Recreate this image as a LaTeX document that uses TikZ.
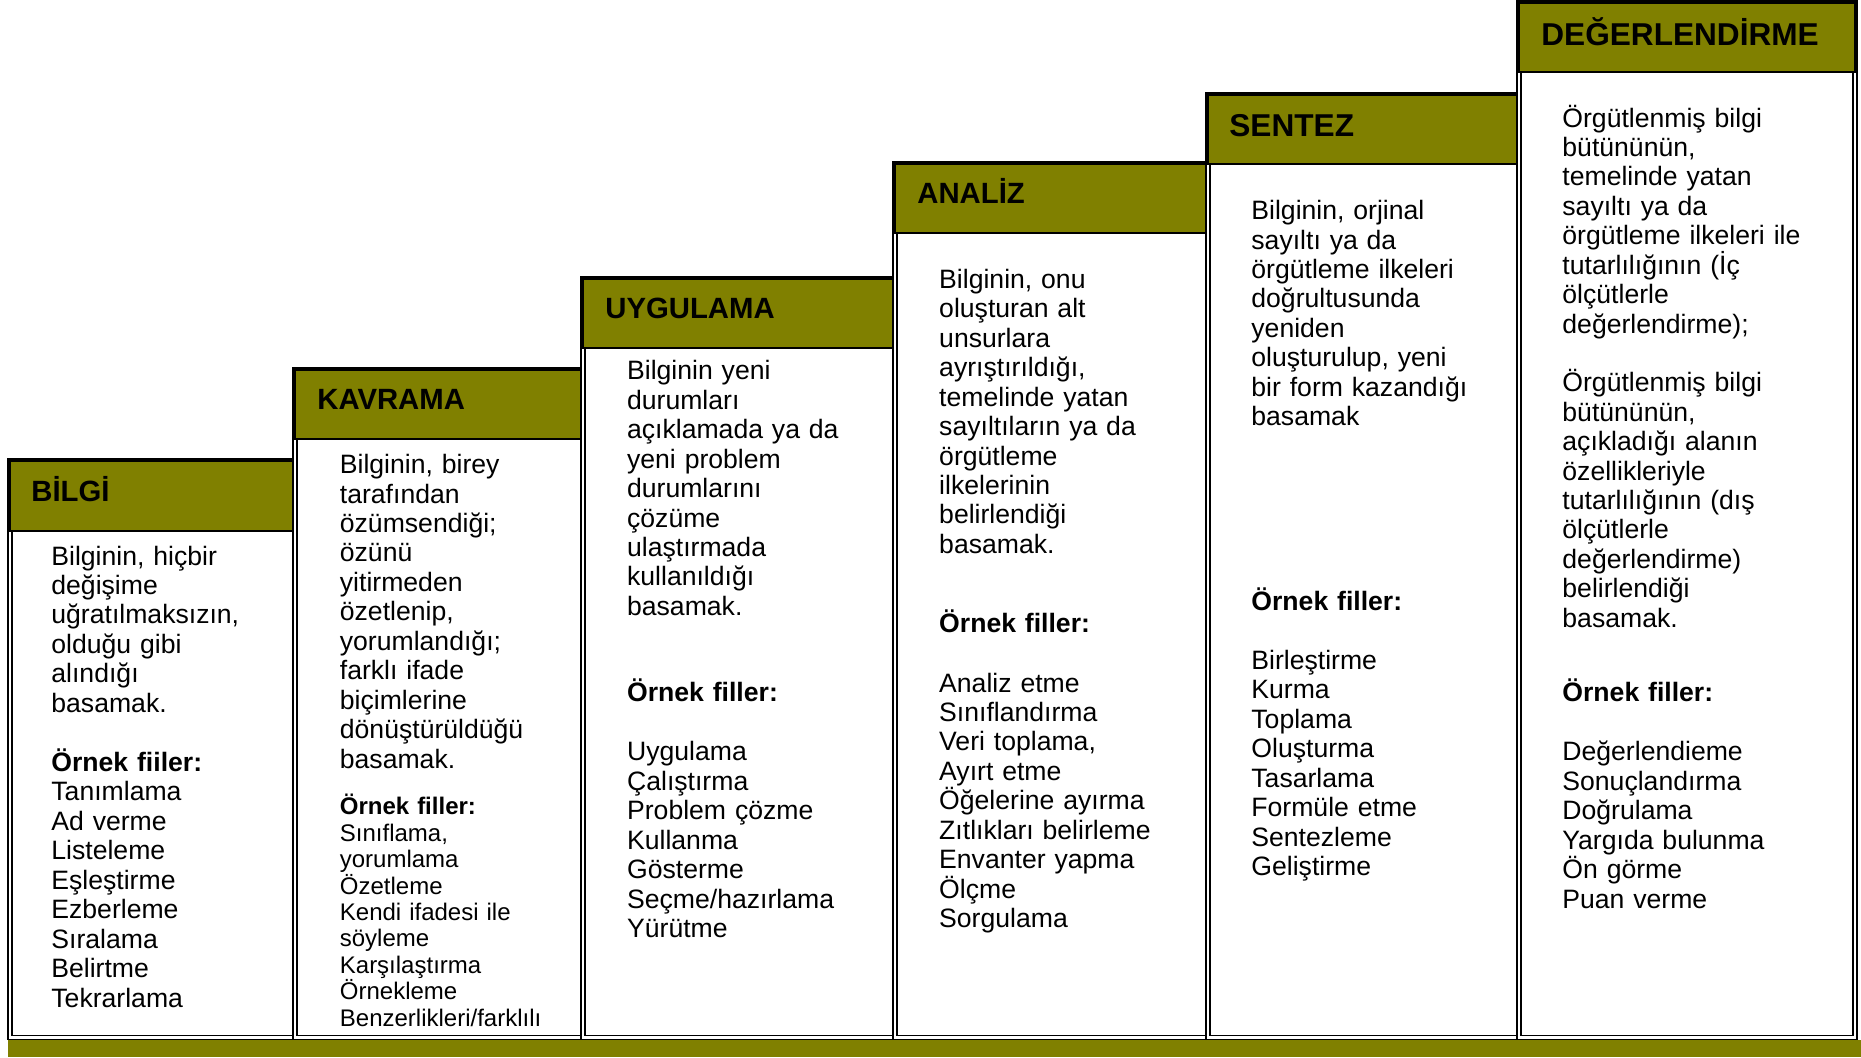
\documentclass[tikz,border=0pt]{standalone}
\usepackage{fontspec}
\setmainfont{Liberation Sans}
\definecolor{olivebar}{RGB}{128,128,0}
\newcommand{\taxcol}[4]{%
  \draw[colborder] (#1,#3) rectangle (#2,1037.5);
  \draw[headbox] (#1,#3) rectangle (#2,#4);
}
\begin{document}
\begin{tikzpicture}[x=0.5pt,y=-0.5pt,
  colborder/.style={draw=black, line width=0.65pt, double=white, double distance=1.25pt},
  headbox/.style={fill=olivebar, draw=black, line width=1pt},
  headtxt/.style={anchor=base west, inner sep=0pt, font=\bfseries\fontsize{14.65pt}{16pt}\selectfont},
  headbig/.style={headtxt, font=\bfseries\fontsize{15.8pt}{17pt}\selectfont},
  bodytxt/.style={anchor=base west, inner sep=0pt, text width=200pt, align=left, font=\fontsize{13.3pt}{14.72pt}\selectfont},
  smalltxt/.style={bodytxt, font=\fontsize{12pt}{13.2pt}\selectfont},
]
\useasboundingbox (0,0) rectangle (1861,1057);
\fill[white] (0,0) rectangle (1861,1057);

% columns
\taxcol{10}{295}{461}{531}
\taxcol{295}{583}{370}{439}
\taxcol{583}{895}{279}{348}
\taxcol{895}{1208}{164}{233}
\taxcol{1208}{1519}{95}{164}
\taxcol{1519}{1855}{3}{72}

% bottom bar
\fill[olivebar] (8,1040) rectangle (1861,1057);

% headers
\node[headtxt] (h1) at (31,501) {BİLGİ};
\node[headtxt] (h2) at (317,409) {KAVRAMA};
\node[headtxt] (h3) at (605,318) {UYGULAMA};
\node[headtxt] (h4) at (917,203) {ANALİZ};
\node[headbig] (h5) at (1229,136) {SENTEZ};
\node[headbig] (h6) at (1541,45) {DEĞERLENDİRME};

% column 1
\node[bodytxt] (b1) at (51,565) {Bilginin, hiçbir\\değişime\\uğratılmaksızın,\\olduğu gibi\\alındığı\\basamak.};
\node[bodytxt] (l1) at (51,771.5) {\textbf{Örnek fiiler:}\\Tanımlama\\Ad verme\\Listeleme\\Eşleştirme\\Ezberleme\\Sıralama\\Belirtme\\Tekrarlama};

% column 2
\node[bodytxt] (b2) at (339.5,473.6) {Bilginin, birey\\tarafından\\özümsendiği;\\özünü\\yitirmeden\\özetlenip,\\yorumlandığı;\\farklı ifade\\biçimlerine\\dönüştürüldüğü\\basamak.};
\node[smalltxt] (l2) at (339.5,814.8) {\textbf{Örnek filler:}\\Sınıflama,\\yorumlama\\Özetleme\\Kendi ifadesi ile\\söyleme\\Karşılaştırma\\Örnekleme\\Benzerlikleri/farklılı};

% column 3
\node[bodytxt] (b3) at (626.7,379.8) {Bilginin yeni\\durumları\\açıklamada ya da\\yeni problem\\durumlarını\\çözüme\\ulaştırmada\\kullanıldığı\\basamak.};
\node[bodytxt] (o3) at (626.7,701.5) {\textbf{Örnek filler:}};
\node[bodytxt] (l3) at (626.7,760.8) {Uygulama\\Çalıştırma\\Problem çözme\\Kullanma\\Gösterme\\Seçme/hazırlama\\Yürütme};

% column 4
\node[bodytxt] (b4) at (938.8,288.4) {Bilginin, onu\\oluşturan alt\\unsurlara\\ayrıştırıldığı,\\temelinde yatan\\sayıltıların ya da\\örgütleme\\ilkelerinin\\belirlendiği\\basamak.};
\node[bodytxt] (o4) at (938.8,632.6) {\textbf{Örnek filler:}};
\node[bodytxt] (l4) at (938.8,692) {Analiz etme\\Sınıflandırma\\Veri toplama,\\Ayırt etme\\Öğelerine ayırma\\Zıtlıkları belirleme\\Envanter yapma\\Ölçme\\Sorgulama};

% column 5
\node[bodytxt] (b5) at (1251,219.6) {Bilginin, orjinal\\sayıltı ya da\\örgütleme ilkeleri\\doğrultusunda\\yeniden\\oluşturulup, yeni\\bir form kazandığı\\basamak};
\node[bodytxt] (o5) at (1251,610) {\textbf{Örnek filler:}};
\node[bodytxt] (l5) at (1251,669.4) {Birleştirme\\Kurma\\Toplama\\Oluşturma\\Tasarlama\\Formüle etme\\Sentezleme\\Geliştirme};

% column 6
\node[bodytxt] (b6) at (1562,127) {Örgütlenmiş bilgi\\bütününün,\\temelinde yatan\\sayıltı ya da\\örgütleme ilkeleri ile\\tutarlılığının (İç\\ölçütlerle\\değerlendirme);};
\node[bodytxt] (c6) at (1562,391.7) {Örgütlenmiş bilgi\\bütününün,\\açıkladığı alanın\\özellikleriyle\\tutarlılığının (dış\\ölçütlerle\\değerlendirme)\\belirlendiği\\basamak.};
\node[bodytxt] (o6) at (1562,701.5) {\textbf{Örnek filler:}};
\node[bodytxt] (l6) at (1562,760.8) {Değerlendieme\\Sonuçlandırma\\Doğrulama\\Yargıda bulunma\\Ön görme\\Puan verme};
\end{tikzpicture}
\end{document}
